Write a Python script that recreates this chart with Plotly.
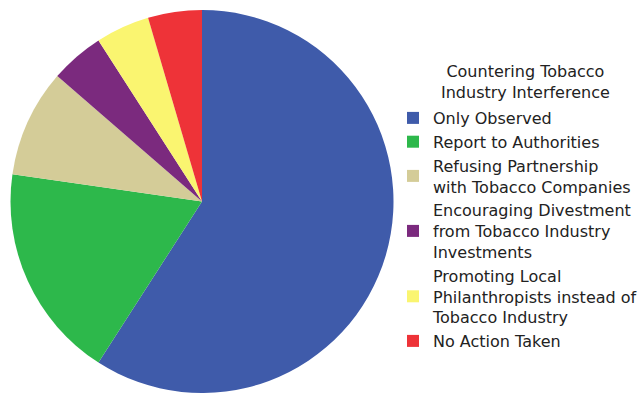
import plotly.graph_objects as go

# Responses to tobacco industry interference
categories = [
    "Only Observed",
    "Report to Authorities",
    "Refusing Partnership<br>with Tobacco Companies",
    "Encouraging Divestment<br>from Tobacco Industry<br>Investments",
    "Promoting Local<br>Philanthropists instead of<br>Tobacco Industry",
    "No Action Taken",
]
counts = [13, 4, 2, 1, 1, 1]
colors = ["#3F5BAA", "#2DB84B", "#D4CC98", "#7B2A7E", "#FAF570", "#EE3338"]
legend_title = "Countering Tobacco<br>Industry Interference"

W, H = 644, 393
TOP = 10
PLOT_H = H - TOP


def paper_y(px_from_top):
    return (H - px_from_top) / PLOT_H


fig = go.Figure(
    go.Pie(
        labels=categories,
        values=counts,
        sort=False,
        direction="clockwise",
        rotation=0,
        textinfo="none",
        hoverinfo="label+value+percent",
        marker=dict(colors=colors, line=dict(width=0)),
        domain=dict(x=[10 / W, 394 / W], y=[0, 1]),
    )
)

# centred heading above the legend entries
fig.add_annotation(
    text=legend_title,
    x=525 / W,
    y=paper_y(82),
    xref="paper",
    yref="paper",
    xanchor="center",
    yanchor="middle",
    align="center",
    showarrow=False,
    font=dict(family="DejaVu Sans", size=16, color="#222222"),
)

fig.update_layout(
    width=W,
    height=H,
    margin=dict(l=0, r=0, t=TOP, b=0, autoexpand=False),
    paper_bgcolor="white",
    plot_bgcolor="white",
    font=dict(family="DejaVu Sans", size=16, color="#222222"),
    legend=dict(
        x=393 / W,
        xanchor="left",
        y=paper_y(101),
        yanchor="top",
        maxheight=1,
        bgcolor="rgba(0,0,0,0)",
        borderwidth=0,
        itemwidth=30,
    ),
)

fig.write_html("out.html")
